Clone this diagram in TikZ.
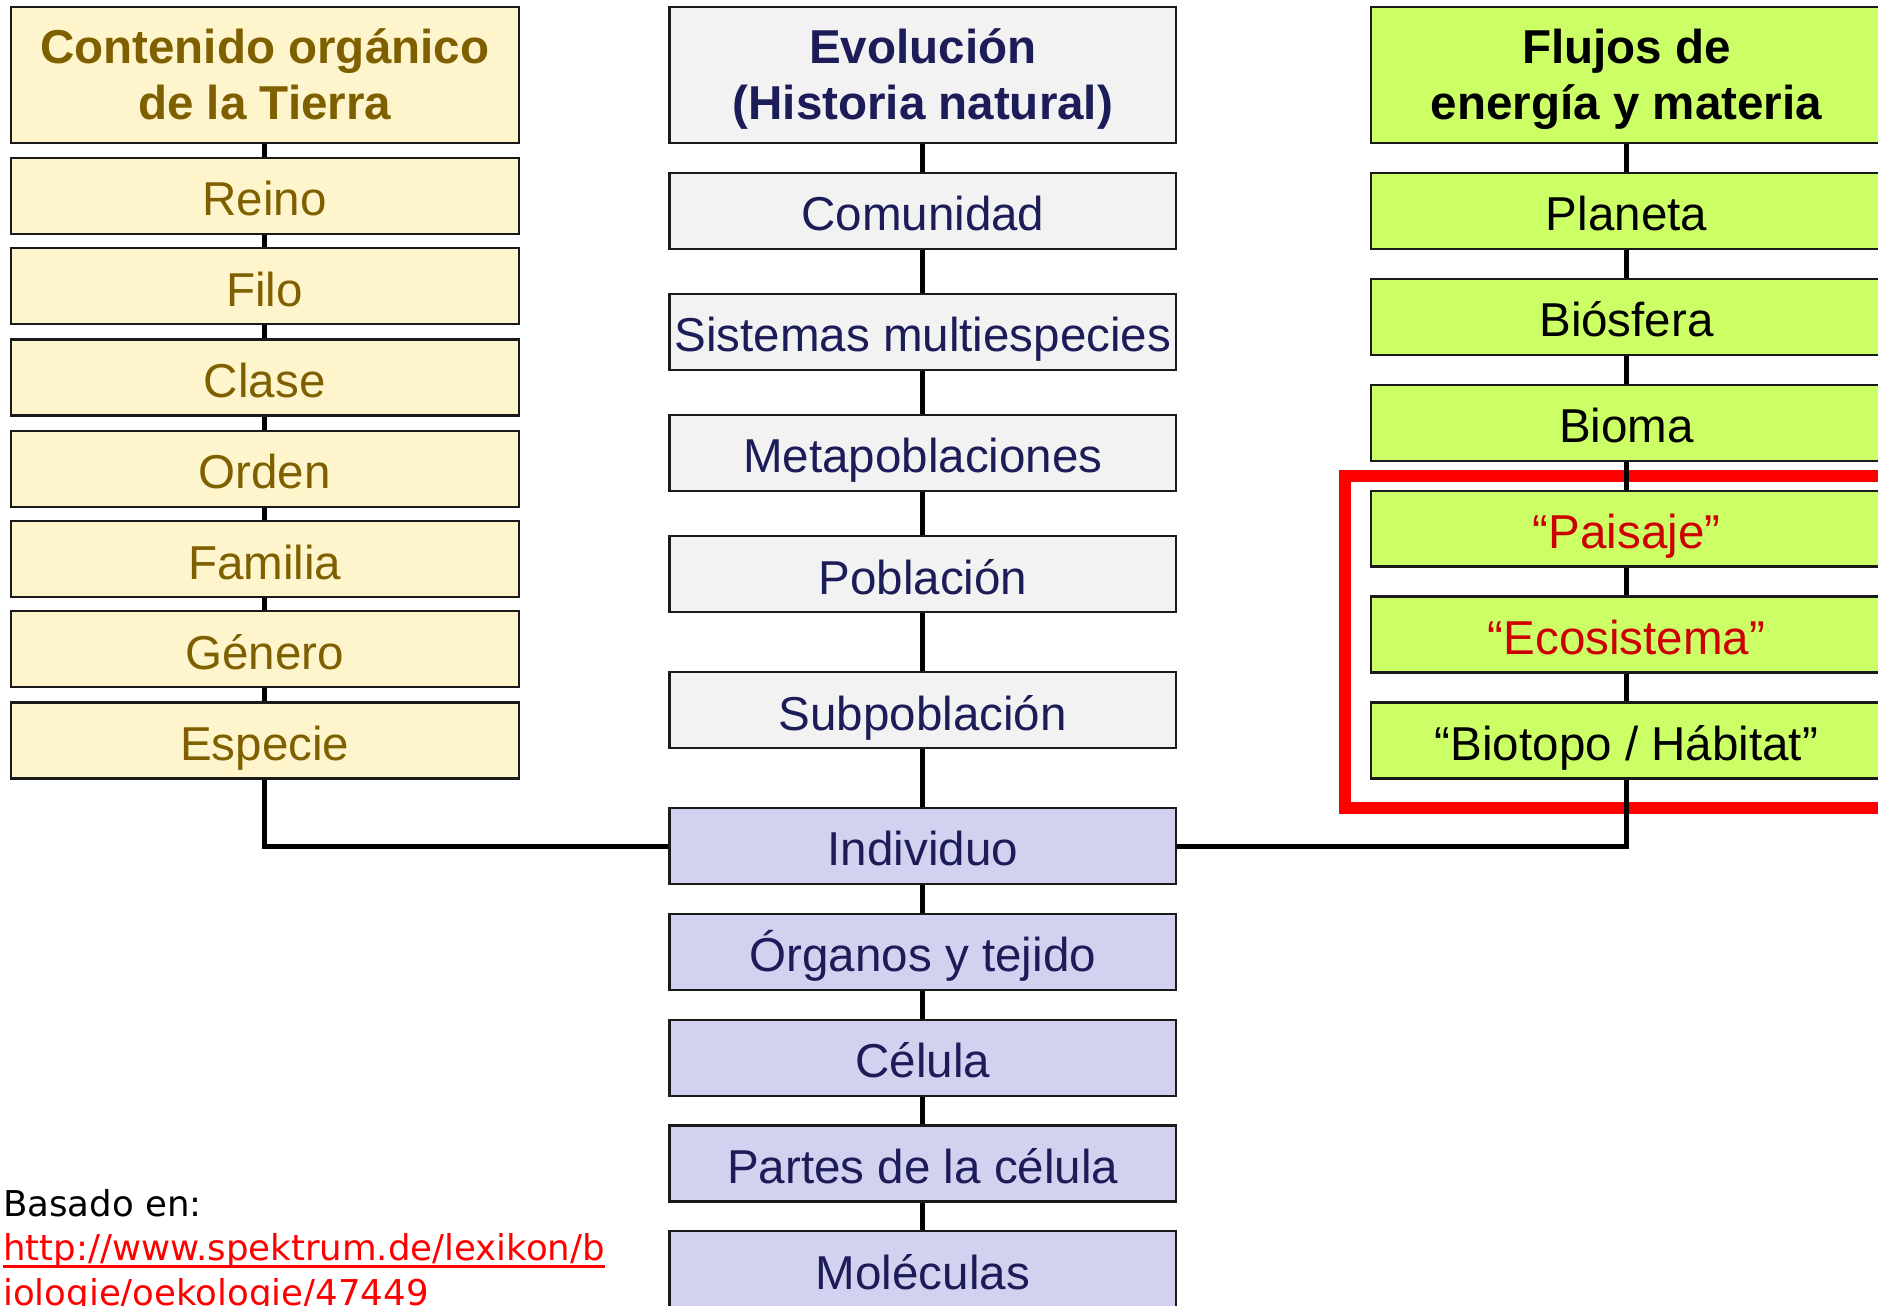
\documentclass[tikz,border=0pt]{standalone}
\usepackage{fontspec}
\setmainfont{Liberation Sans}
\newfontfamily\notefont{DejaVu Sans}
\usetikzlibrary{calc}
\definecolor{ylwfill}{HTML}{FFF5CC}
\definecolor{olivetxt}{HTML}{7F6000}
\definecolor{greyfill}{HTML}{F2F2F2}
\definecolor{navytxt}{HTML}{1C1C58}
\definecolor{greenfill}{HTML}{CCFF66}
\definecolor{lavfill}{HTML}{D2D2F0}
\definecolor{redtxt}{HTML}{CC0000}
\definecolor{bordercol}{HTML}{1A1A1A}
\begin{document}
\begin{tikzpicture}[x=1pt,y=-1pt,
  box/.style={draw=bordercol, line width=1.8pt, minimum width=424pt, minimum height=63.4pt,
    inner sep=0pt, text height=33pt, text depth=0pt, font=\fontsize{39.7}{47}\selectfont},
  hbox/.style={draw=bordercol, line width=1.8pt, minimum width=424pt, minimum height=114pt, inner sep=0pt},
  htext/.style={anchor=base, inner sep=0pt, font=\fontsize{39.7}{47}\selectfont\bfseries},
  ybox/.style={box, fill=ylwfill, text=olivetxt},
  gbox/.style={box, fill=greyfill, text=navytxt, minimum width=423pt},
  lbox/.style={box, fill=lavfill, text=navytxt, minimum width=423pt},
  grbox/.style={box, fill=greenfill, text=black, minimum width=426pt},
  link/.style={line width=4pt, black},
  note/.style={anchor=base west, inner sep=0pt, font=\notefont\fontsize{29.7}{37}\selectfont},
]
\useasboundingbox (0,0) rectangle (1568,1090);
\clip (0,0) rectangle (1568,1090);
\fill[white] (0,0) rectangle (1568,1090);

% red frame
\draw[red, line width=10pt] (1122.6,397.2) rectangle (1640,674.5);

% left column
\node[hbox, fill=ylwfill] (hL) at (221,62.6) {};
\node[htext, text=olivetxt] (hL1) at (221,53) {Contenido orgánico};
\node[htext, text=olivetxt] (hL2) at (221,100) {de la Tierra};
\node[ybox] (reino) at (221,163.8) {Reino};
\node[ybox] (filo) at (221,239) {Filo};
\node[ybox] (clase) at (221,315.2) {Clase};
\node[ybox] (orden) at (221,391.25) {Orden};
\node[ybox] (familia) at (221,467) {Familia};
\node[ybox] (genero) at (221,542.15) {Género};
\node[ybox] (especie) at (221,618.25) {Especie};

% middle column
\node[hbox, fill=greyfill, minimum width=423pt] (hM) at (770.5,62.6) {};
\node[htext, text=navytxt] (hM1) at (770.5,53) {Evolución};
\node[htext, text=navytxt] (hM2) at (770.5,100) {(Historia natural)};
\node[gbox] (comunidad) at (770.5,176.35) {Comunidad};
\node[gbox] (sistemas) at (770.5,277.35) {Sistemas multiespecies};
\node[gbox] (metapob) at (770.5,378) {Metapoblaciones};
\node[gbox] (poblacion) at (770.5,479.5) {Población};
\node[gbox] (subpob) at (770.5,593.1) {Subpoblación};
\node[lbox] (individuo) at (770.5,706.5) {Individuo};
\node[lbox] (organos) at (770.5,794.7) {Órganos y tejido};
\node[lbox] (celula) at (770.5,883.1) {Célula};
\node[lbox] (partes) at (770.5,971.45) {Partes de la célula};
\node[lbox] (moleculas) at (770.5,1059.75) {Moléculas};

% right column
\node[hbox, fill=greenfill, minimum width=426pt] (hR) at (1358,62.6) {};
\node[htext, text=black] (hR1) at (1358,53) {Flujos de};
\node[htext, text=black] (hR2) at (1358,100) {energía y materia};
\node[grbox] (planeta) at (1358,176.35) {Planeta};
\node[grbox] (biosfera) at (1358,264.5) {Biósfera};
\node[grbox] (bioma) at (1358,353.1) {Bioma};
\node[grbox, text=redtxt] (paisaje) at (1358,441.3) {“Paisaje”};
\node[grbox, text=redtxt] (ecosistema) at (1358,529.75) {“Ecosistema”};
\node[grbox] (biotopo) at (1358,618.25) {“Biotopo / Hábitat”};

% connectors
\foreach \a/\b in {hL/reino, reino/filo, filo/clase, clase/orden, orden/familia, familia/genero, genero/especie,
  hM/comunidad, comunidad/sistemas, sistemas/metapob, metapob/poblacion, poblacion/subpob, subpob/individuo,
  individuo/organos, organos/celula, celula/partes, partes/moleculas,
  hR/planeta, planeta/biosfera, biosfera/bioma, bioma/paisaje, paisaje/ecosistema, ecosistema/biotopo}
  \draw[link] (\a.south) -- (\b.north);
\draw[link] (especie.south) |- (individuo.west);
\draw[link] (biotopo.south) |- (individuo.east);

% source note
\node[note, text=black] (basado) at (2.5,1015.6) {Basado en:};
\node[note, text=red] (url1) at (2.5,1052.6) {http://www.spektrum.de/lexikon/b};
\node[note, text=red] (url2) at (2.5,1090) {iologie/oekologie/47449};
\draw[red, line width=2.5pt] ($(url1.base west)+(0,5)$) -- ($(url1.base east)+(0,5)$);
\draw[red, line width=2.5pt] ($(url2.base west)+(0,5)$) -- ($(url2.base east)+(0,5)$);
\end{tikzpicture}
\end{document}
